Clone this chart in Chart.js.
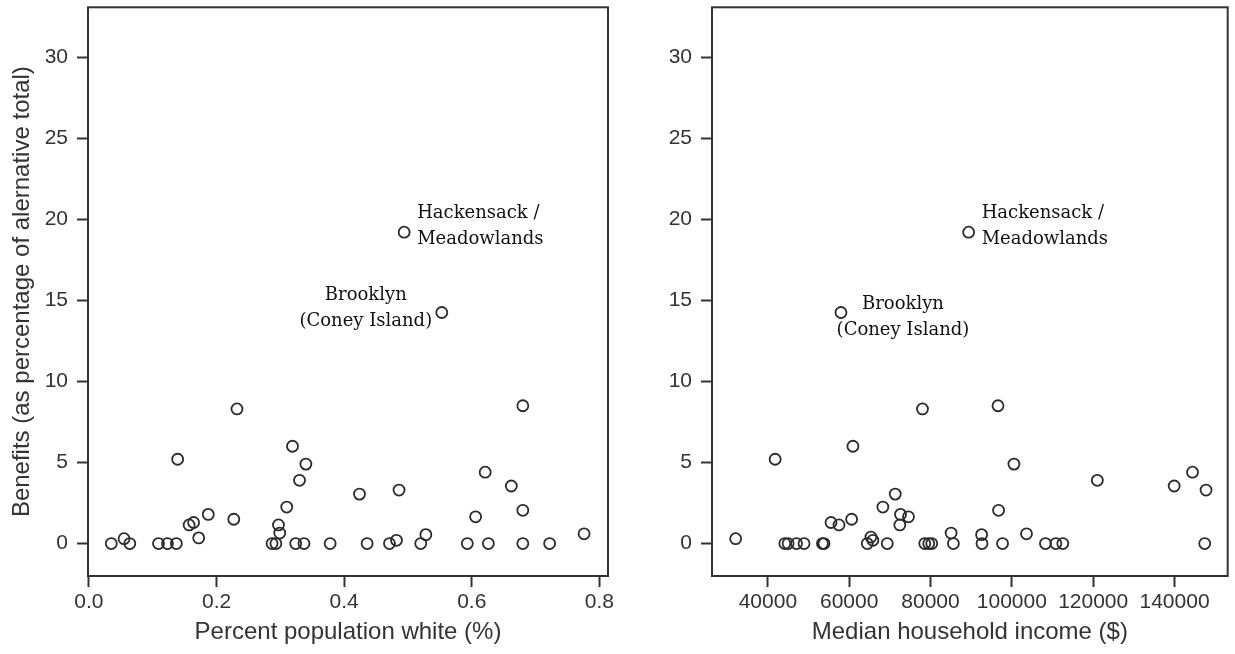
<!DOCTYPE html>
<html>
<head>
<meta charset="utf-8">
<title>Benefits vs. demographics</title>
<script src="https://cdn.jsdelivr.net/npm/chart.js@4.4.0/dist/chart.umd.min.js"></script>
<style>
    html, body { margin: 0; padding: 0; background: #fff; }
    .panel { position: absolute; top: 0; }
    #left { left: 0; }
    #right { left: 620px; }
</style>
</head>
<body>
<div class="panel" id="left"><canvas id="whiteChart" width="620" height="654"></canvas></div>
<div class="panel" id="right"><canvas id="incomeChart" width="615" height="654"></canvas></div>

<script>
// left panel: share of white population vs benefits
const whiteX = [0.035, 0.055, 0.064, 0.109, 0.123, 0.137, 0.139, 0.157, 0.164, 0.172,
                0.187, 0.227, 0.232, 0.287, 0.293, 0.297, 0.299, 0.310, 0.319, 0.324,
                0.330, 0.337, 0.340, 0.378, 0.424, 0.436, 0.471, 0.482, 0.486, 0.494,
                0.520, 0.528, 0.553, 0.593, 0.606, 0.621, 0.626, 0.662, 0.680, 0.680,
                0.680, 0.722, 0.776];
const whiteY = [0, 0.3, 0, 0, 0, 0, 5.2, 1.15, 1.3, 0.35,
                1.8, 1.5, 8.3, 0, 0, 1.15, 0.65, 2.25, 6.0, 0,
                3.9, 0, 4.9, 0, 3.05, 0, 0, 0.2, 3.3, 19.2,
                0, 0.55, 14.25, 0, 1.65, 4.4, 0, 3.55, 8.5, 2.05,
                0, 0, 0.6];

// right panel: median household income vs benefits
const incomeX = [32080, 41790, 44170, 44980, 47040, 48900, 53420, 53810, 55530, 57490,
                 57980, 60600, 60920, 64450, 65340, 65830, 68280, 69360, 71320, 72450,
                 72620, 74580, 78020, 78580, 79560, 80300, 85060, 85620, 89370, 92560,
                 92660, 96590, 96730, 97710, 100510, 103600, 108260, 110810, 112530, 121020,
                 139910, 144420, 147430, 147750];
const incomeY = [0.3, 5.2, 0, 0, 0, 0, 0, 0, 1.3, 1.15,
                 14.25, 1.5, 6.0, 0, 0.4, 0.2, 2.25, 0, 3.05, 1.15,
                 1.8, 1.65, 8.3, 0, 0, 0, 0.65, 0, 19.2, 0.55,
                 0, 8.5, 2.05, 0, 4.9, 0.6, 0, 0, 0, 3.9,
                 3.55, 4.4, 0, 3.3];

const yTicks = [0, 5, 10, 15, 20, 25, 30];
const yTickLabels = ['0', '5', '10', '15', '20', '25', '30'];
const whiteTicks = [0, 0.2, 0.4, 0.6, 0.8];
const whiteTickLabels = ['0.0', '0.2', '0.4', '0.6', '0.8'];
const incomeTicks = [40000, 60000, 80000, 100000, 120000, 140000];
const incomeTickLabels = ['40000', '60000', '80000', '100000', '120000', '140000'];

const hackensack = ['Hackensack /', 'Meadowlands'];
const brooklyn = ['Brooklyn', '(Coney Island)'];

const INK = '#333';
Chart.defaults.font.family = '"Liberation Sans", Arial, sans-serif';
Chart.defaults.color = INK;

// box around the plot area
const framePlugin = {
    id: 'frame',
    afterDraw(chart) {
        const { ctx, chartArea: a } = chart;
        ctx.save();
        ctx.strokeStyle = INK;
        ctx.lineWidth = 2;
        ctx.strokeRect(a.left, a.top, a.right - a.left, a.bottom - a.top);
        ctx.restore();
    }
};

// text labels next to a couple of points
const notesPlugin = {
    id: 'notes',
    afterDatasetsDraw(chart, args, opts) {
        const ctx = chart.ctx;
        const pts = chart.getDatasetMeta(0).data;
        ctx.save();
        ctx.font = '18px "DejaVu Serif", serif';
        ctx.fillStyle = '#111';
        ctx.textBaseline = 'middle';
        (opts.items || []).forEach(n => {
            const p = pts[n.index];
            ctx.textAlign = n.align;
            n.lines.forEach((t, k) => {
                ctx.fillText(t, p.x + n.dx, p.y + n.dy + k * 26);
            });
        });
        ctx.restore();
    }
};

function makeChart(id, xs, ys, cfg) {
    const pts = xs.map((x, i) => ({ x: x, y: ys[i] }));
    return new Chart(document.getElementById(id), {
        type: 'scatter',
        data: {
            datasets: [{
                data: pts,
                pointRadius: 5.5,
                pointBorderWidth: 1.8,
                borderColor: '#2b2b2b',
                backgroundColor: 'rgba(0,0,0,0)'
            }]
        },
        plugins: [framePlugin, notesPlugin],
        options: {
            responsive: false,
            animation: false,
            events: [],
            layout: { padding: { top: 7, right: cfg.padRight, left: 0, bottom: 0 } },
            plugins: {
                legend: { display: false },
                tooltip: { enabled: false },
                notes: { items: cfg.notes }
            },
            scales: {
                x: {
                    type: 'linear',
                    min: cfg.xMin,
                    max: cfg.xMax,
                    afterBuildTicks: s => { s.ticks = cfg.xTicks.map(v => ({ value: v })); },
                    afterFit: s => {
                        s.height = 78;
                        s.paddingLeft = 0;
                        s.paddingRight = 0;
                    },
                    ticks: {
                        autoSkip: false,
                        maxRotation: 0,
                        padding: 3,
                        font: { size: 21 },
                        callback: (v, i) => cfg.xLabels[i]
                    },
                    grid: { drawOnChartArea: false, tickLength: 11, tickWidth: 2, tickColor: INK },
                    border: { display: false },
                    title: {
                        display: true,
                        text: cfg.xTitle,
                        font: { size: 24 },
                        padding: { top: 0, bottom: 7 }
                    }
                },
                y: {
                    type: 'linear',
                    min: -2,
                    max: 33.07,
                    afterBuildTicks: s => { s.ticks = yTicks.map(v => ({ value: v })); },
                    afterFit: s => {
                        s.width = cfg.yWidth;
                        s.paddingTop = 0;
                        s.paddingBottom = 0;
                    },
                    ticks: {
                        autoSkip: false,
                        padding: 9,
                        font: { size: 21 },
                        callback: (v, i) => yTickLabels[i]
                    },
                    grid: { drawOnChartArea: false, tickLength: 11, tickWidth: 2, tickColor: INK },
                    border: { display: false },
                    title: {
                        display: !!cfg.yTitle,
                        text: cfg.yTitle,
                        font: { size: 24 },
                        padding: { top: 8, bottom: 0 }
                    }
                }
            }
        }
    });
}

makeChart('whiteChart', whiteX, whiteY, {
    xMin: -0.0015, xMax: 0.8135,
    xTicks: whiteTicks, xLabels: whiteTickLabels,
    xTitle: 'Percent population white (%)',
    yTitle: 'Benefits (as percentage of alernative total)',
    yWidth: 88, padRight: 12,
    notes: [
        { index: whiteY.indexOf(19.2), lines: hackensack, align: 'left', dx: 13, dy: -19 },
        { index: whiteY.indexOf(14.25), lines: brooklyn, align: 'center', dx: -76, dy: -17 }
    ]
});

makeChart('incomeChart', incomeX, incomeY, {
    xMin: 26265, xMax: 153075,
    xTicks: incomeTicks, xLabels: incomeTickLabels,
    xTitle: 'Median household income ($)',
    yTitle: '',
    yWidth: 92, padRight: 6,
    notes: [
        { index: incomeY.indexOf(19.2), lines: hackensack, align: 'left', dx: 13, dy: -19 },
        { index: incomeY.indexOf(14.25), lines: brooklyn, align: 'center', dx: 62, dy: -8 }
    ]
});
</script>
</body>
</html>
